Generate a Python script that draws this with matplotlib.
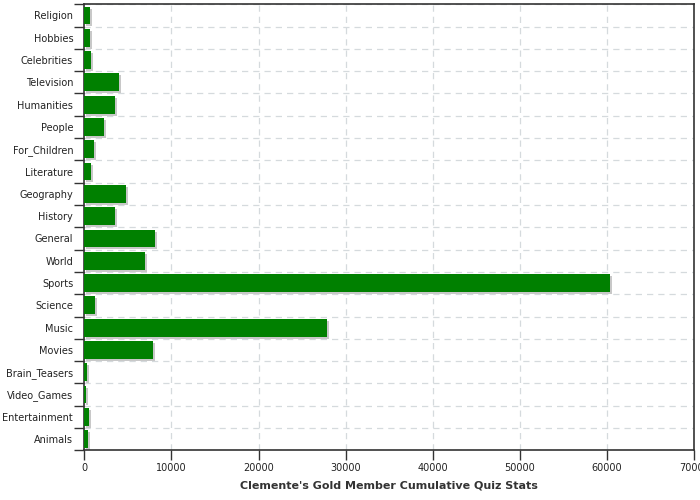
import matplotlib
matplotlib.use("Agg")
import matplotlib.pyplot as plt
import matplotlib.transforms as mtransforms
import numpy as np

categories = ["Religion", "Hobbies", "Celebrities", "Television", "Humanities", "People",
              "For_Children", "Literature", "Geography", "History", "General", "World",
              "Sports", "Science", "Music", "Movies", "Brain_Teasers", "Video_Games",
              "Entertainment", "Animals"]
values = [650, 650, 770, 3970, 3510, 2250, 1110, 770, 4770, 3510, 8090, 6940,
          60300, 1220, 27880, 7860, 310, 160, 540, 420]
xticks = [0, 10000, 20000, 30000, 40000, 50000, 60000, 70000]
xlabel = "Clemente's Gold Member Cumulative Quiz Stats"

fig = plt.figure(figsize=(7, 5), dpi=100)
ax = fig.add_axes([84.3 / 700, 0.0994, 610 / 700, 446 / 500])

y = np.arange(len(categories))
shadow_tr = ax.transData + mtransforms.ScaledTranslation(2/100, -2/100, fig.dpi_scale_trans)
ax.barh(y, values, height=0.8, color="#c8c8c8", transform=shadow_tr, zorder=2)
ax.barh(y, values, height=0.8, color="#008000", zorder=3)

ax.set_ylim(len(categories) - 0.5, -0.5)
ax.set_xlim(0, 70000)
ax.set_yticks(y)
ax.set_yticklabels(categories, fontsize=7, color="#222222")
ax.set_yticks(np.arange(len(categories) + 1) - 0.5, minor=True)
ax.tick_params(axis="y", which="major", length=0, pad=8)
ax.tick_params(axis="y", which="minor", length=7.5, width=1, color="#333333")
ax.set_xticks(xticks)
ax.set_xticklabels([str(v) for v in xticks], fontsize=7, color="#222222")
ax.tick_params(axis="x", which="major", length=7.5, width=1, color="#333333", pad=2)

ax.grid(axis="x", which="major", linestyle=(0, (5, 4)), color="#d5dadd", linewidth=0.9, zorder=0)
ax.grid(axis="y", which="minor", linestyle=(0, (5, 4)), color="#d5dadd", linewidth=0.9, zorder=0)
ax.set_axisbelow(True)

for s in ax.spines.values():
    s.set_color("#333333")
    s.set_linewidth(1.2)

ax.set_xlabel(xlabel, fontsize=8, fontweight="bold", color="#333333", labelpad=5)

fig.savefig("out.png", dpi=100)
